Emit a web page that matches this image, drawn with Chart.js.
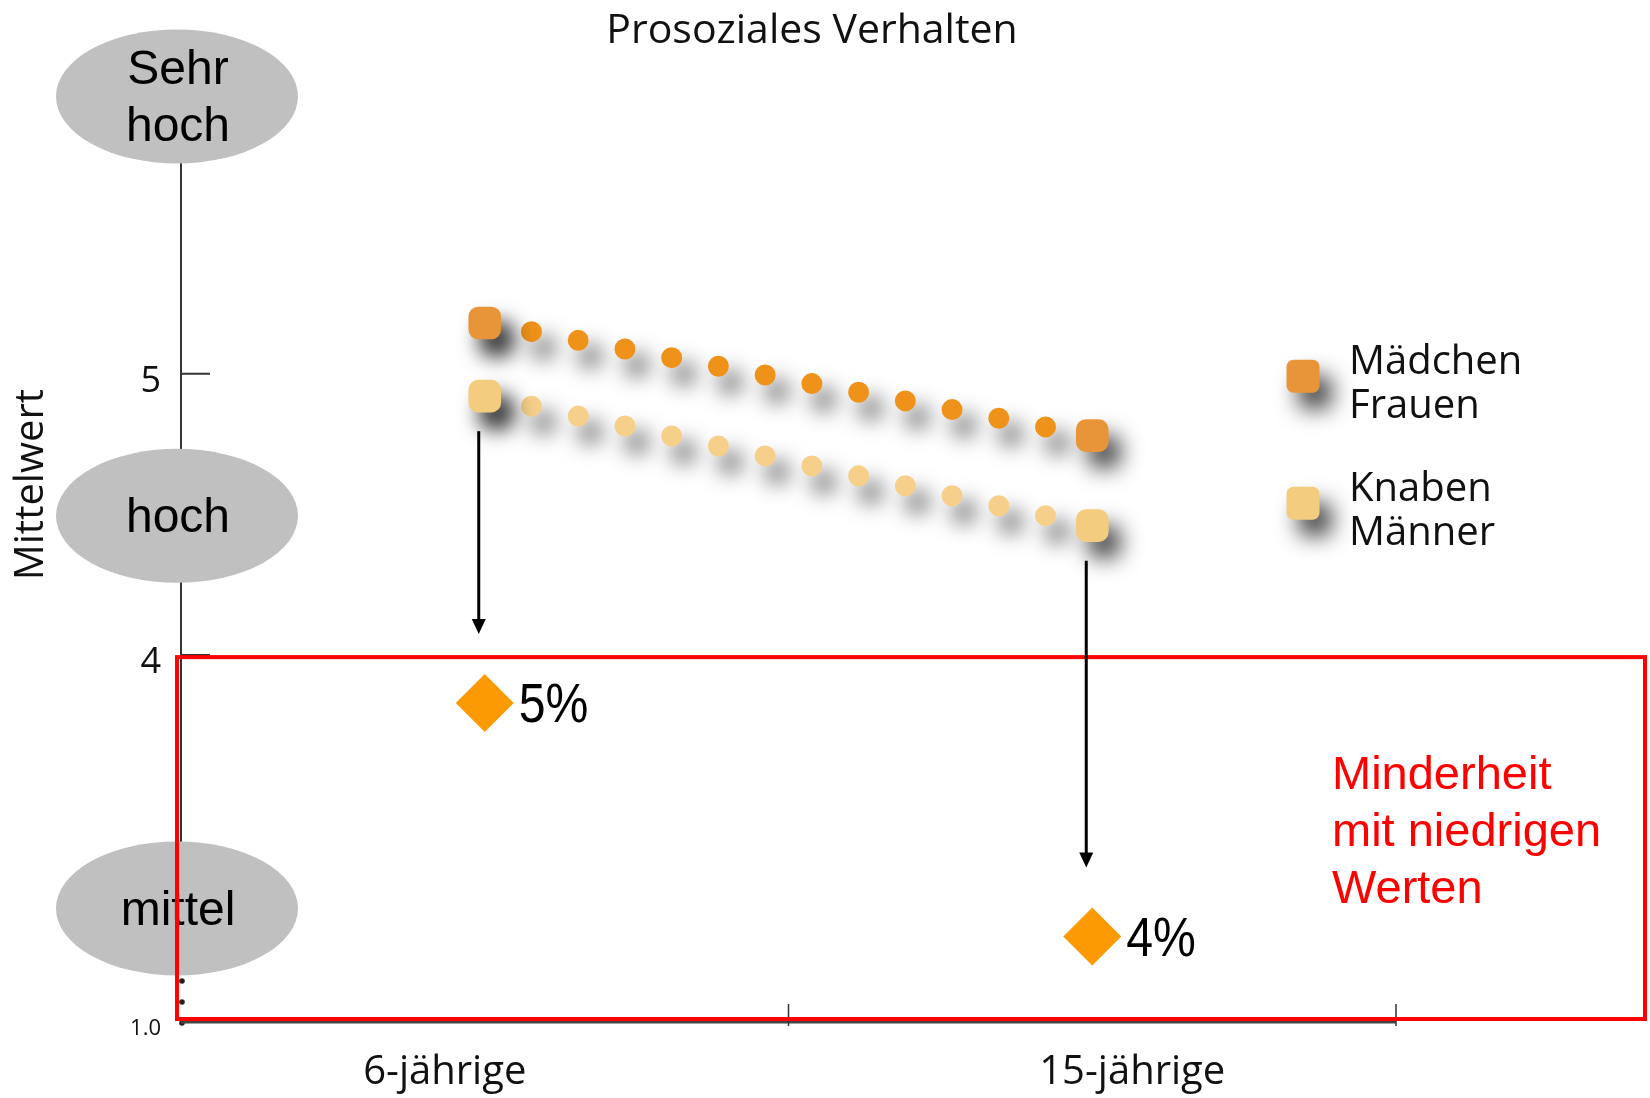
<!DOCTYPE html>
<html lang="de">
<head>
<meta charset="utf-8">
<title>Prosoziales Verhalten</title>
<script src="https://cdn.jsdelivr.net/npm/chart.js@4.4.1/dist/chart.umd.min.js"></script>
<style>
    html, body { margin: 0; padding: 0; background: #fff; }
    .chart-wrap { position: relative; width: 1650px; height: 1098px; }
</style>
</head>
<body>
<div class="chart-wrap"><canvas id="chart"></canvas></div>
<script>
// values
const ageGroups = ['6-jährige', '15-jährige'];
const girlsValues = [5.18, 4.78];
const boysValues = [4.92, 4.46];
const seriesNames = [['Mädchen', 'Frauen'], ['Knaben', 'Männer']];

const lowShareValues = [3.83, 3.0];
const lowShareLabels = ['5%', '4%'];

const levelNames = [['Sehr', 'hoch'], ['hoch'], ['mittel']];
const levelValues = [5.985, 4.495, 3.1];

const yTickValues = [4, 5];
const yBreakValue = 2.7;
const yBreakLabel = '1.0';
const yTop = 6;
const yTitle = 'Mittelwert';
const minorityThreshold = 4;
const minorityText = ['Minderheit', 'mit niedrigen', 'Werten'];

const SANS = '"Open Sans", "Noto Sans", sans-serif';
const ARIAL = '"Liberation Sans", Arial, sans-serif';
const NARROW = '"Liberation Sans Narrow", "Liberation Sans", sans-serif';

const girlsColor = '#EF921A';
const girlsSquare = '#E8953A';
const boysColor = '#F6D08A';
const boysSquare = '#F4CC80';
const dotsPerSegment = 13;

function dotDash(ctx) {
    const { x, y } = ctx.chart.scales;
    const values = ctx.dataset.data;
    if (!x || !y || values.length < 2) {
        return [];
    }
    const last = values.length - 1;
    const dx = x.getPixelForValue(last) - x.getPixelForValue(0);
    const dy = y.getPixelForValue(values[last]) - y.getPixelForValue(values[0]);
    const gap = Math.hypot(dx, dy) / (dotsPerSegment * last);
    return gap > 1 ? [0, gap] : [];
}

function setShadow(ctx) {
    ctx.shadowColor = 'rgba(0, 0, 0, 0.75)';
    ctx.shadowBlur = 22;
    ctx.shadowOffsetX = 12;
    ctx.shadowOffsetY = 16;
}

const dotShadow = {
    id: 'dotShadow',
    beforeDatasetDraw(chart, args) {
        if (!chart.data.datasets[args.index].shadow) {
            return;
        }
        chart.ctx.save();
        setShadow(chart.ctx);
    },
    afterDatasetDraw(chart, args) {
        if (chart.data.datasets[args.index].shadow) {
            chart.ctx.restore();
        }
    }
};

function drawArrow(ctx, x, yStart, yTip) {
    const head = 15;
    ctx.save();
    ctx.strokeStyle = '#000';
    ctx.fillStyle = '#000';
    ctx.lineWidth = 3;
    ctx.beginPath();
    ctx.moveTo(x, yStart);
    ctx.lineTo(x, yTip - head + 2);
    ctx.stroke();
    ctx.beginPath();
    ctx.moveTo(x - 7, yTip - head);
    ctx.lineTo(x + 7, yTip - head);
    ctx.lineTo(x, yTip);
    ctx.closePath();
    ctx.fill();
    ctx.restore();
}

const decor = {
    id: 'decor',
    beforeDatasetsDraw(chart) {
        const { ctx, chartArea: area, scales: { x, y } } = chart;
        ctx.save();

        // y axis with break dots at the bottom
        ctx.strokeStyle = '#333';
        ctx.fillStyle = '#222';
        ctx.lineWidth = 2;
        ctx.beginPath();
        ctx.moveTo(area.left, area.top);
        ctx.lineTo(area.left, area.bottom - 52);
        for (const value of yTickValues) {
            const py = y.getPixelForValue(value);
            ctx.moveTo(area.left, py);
            ctx.lineTo(area.left + 29, py);
        }
        ctx.stroke();
        for (const offset of [42, 21, 0]) {
            ctx.beginPath();
            ctx.arc(area.left + 1, area.bottom - offset + 2, 2.8, 0, Math.PI * 2);
            ctx.fill();
        }

        // y axis title
        ctx.save();
        ctx.translate(32, (area.top + area.bottom) / 2 - 72);
        ctx.rotate(-Math.PI / 2);
        ctx.fillStyle = '#111';
        ctx.font = `40px ${SANS}`;
        ctx.textAlign = 'center';
        ctx.textBaseline = 'middle';
        ctx.fillText(yTitle, 0, 0);
        ctx.restore();

        // x axis with upward ticks on the category borders
        ctx.strokeStyle = '#444';
        ctx.lineWidth = 3;
        ctx.beginPath();
        ctx.moveTo(area.left, area.bottom + 1);
        ctx.lineTo(area.right, area.bottom + 1);
        ctx.stroke();
        ctx.lineWidth = 1.5;
        ctx.strokeStyle = '#333';
        const step = x.getPixelForValue(1) - x.getPixelForValue(0);
        ageGroups.forEach((label, i) => {
            const px = x.getPixelForValue(i) + step / 2;
            ctx.beginPath();
            ctx.moveTo(px, area.bottom + 5);
            ctx.lineTo(px, area.bottom - 17);
            ctx.stroke();
        });

        // grey level ellipses on the y axis
        ctx.textAlign = 'center';
        ctx.textBaseline = 'middle';
        ctx.font = `48px ${ARIAL}`;
        levelNames.forEach((lines, i) => {
            const cx = area.left - 4;
            const cy = y.getPixelForValue(levelValues[i]);
            ctx.fillStyle = '#C0C0C0';
            ctx.beginPath();
            ctx.ellipse(cx, cy, 121, 67, 0, 0, Math.PI * 2);
            ctx.fill();
            ctx.fillStyle = '#000';
            lines.forEach((line, j) => {
                ctx.fillText(line, cx + 1, cy + 3 + (j - (lines.length - 1) / 2) * 57);
            });
        });

        // red box for the low-value minority
        const boxTop = y.getPixelForValue(minorityThreshold) + 2;
        ctx.strokeStyle = '#FF0000';
        ctx.lineWidth = 4;
        ctx.strokeRect(area.left - 4, boxTop, chart.width - 5 - (area.left - 4), area.bottom - 2 - boxTop);
        ctx.fillStyle = '#FF0000';
        ctx.textAlign = 'left';
        ctx.font = `47px ${ARIAL}`;
        minorityText.forEach((line, i) => {
            ctx.fillText(line, area.right - 64, boxTop + 119 + i * 57);
        });

        // legend with shadowed squares
        chart.data.datasets.forEach((dataset, i) => {
            if (!dataset.legendLines) {
                return;
            }
            const sx = area.right - 93;
            const sy = area.top + 284 + i * 127;
            ctx.save();
            setShadow(ctx);
            ctx.fillStyle = dataset.pointBackgroundColor;
            ctx.beginPath();
            ctx.roundRect(sx - 16.5, sy - 16.5, 33, 33, 7);
            ctx.fill();
            ctx.restore();
            ctx.fillStyle = '#111';
            ctx.font = `40px ${SANS}`;
            dataset.legendLines.forEach((line, j) => {
                ctx.fillText(line, sx + 46, sy - 14 + j * 44);
            });
        });

        ctx.restore();
    },
    afterDatasetsDraw(chart) {
        const { ctx } = chart;
        const boys = chart.getDatasetMeta(1).data;
        const shares = chart.getDatasetMeta(2).data;
        shares.forEach((point, i) => {
            drawArrow(ctx, point.x - 6, boys[i].y + 35, point.y - 69);
        });
        ctx.save();
        ctx.fillStyle = '#000';
        ctx.font = `56px ${NARROW}`;
        ctx.textAlign = 'left';
        ctx.textBaseline = 'middle';
        shares.forEach((point, i) => {
            ctx.save();
            ctx.translate(point.x + 34, point.y + 4);
            ctx.scale(0.86, 1);
            ctx.fillText(lowShareLabels[i], 0, 0);
            ctx.restore();
        });
        ctx.restore();
    }
};

new Chart(document.getElementById('chart'), {
    type: 'line',
    data: {
        labels: ageGroups,
        datasets: [
            {
                label: seriesNames[0].join(' '),
                legendLines: seriesNames[0],
                data: girlsValues,
                shadow: true,
                borderColor: girlsColor,
                borderWidth: 21,
                borderCapStyle: 'round',
                borderDash: dotDash,
                pointStyle: 'rectRounded',
                pointRadius: 19,
                pointBorderWidth: 0,
                pointBackgroundColor: girlsSquare,
                tension: 0
            },
            {
                label: seriesNames[1].join(' '),
                legendLines: seriesNames[1],
                data: boysValues,
                shadow: true,
                borderColor: boysColor,
                borderWidth: 21,
                borderCapStyle: 'round',
                borderDash: dotDash,
                pointStyle: 'rectRounded',
                pointRadius: 19,
                pointBorderWidth: 0,
                pointBackgroundColor: boysSquare,
                tension: 0
            },
            {
                label: 'Anteil niedrige Werte',
                data: lowShareValues,
                showLine: false,
                pointStyle: 'rectRot',
                pointRadius: 29,
                pointBorderWidth: 0,
                pointBackgroundColor: '#FC9A04'
            }
        ]
    },
    options: {
        responsive: true,
        maintainAspectRatio: false,
        animation: false,
        events: [],
        layout: {
            padding: { left: 0, right: 26, top: 0, bottom: 0 }
        },
        plugins: {
            legend: { display: false },
            tooltip: { enabled: false },
            title: {
                display: true,
                text: 'Prosoziales Verhalten',
                color: '#111',
                font: { family: SANS, size: 41, weight: 'normal' },
                padding: { top: 7, bottom: 36 }
            }
        },
        scales: {
            x: {
                type: 'category',
                offset: true,
                grid: { display: false, drawTicks: false },
                border: { display: false },
                ticks: {
                    color: '#111',
                    padding: 28,
                    font: { family: SANS, size: 40 },
                    // the labels sit a little off the category centres
                    callback: (value, index) => (index === 0
                        ? ageGroups[index] + '\u2003\u2003'
                        : '\u2003\u2003' + ageGroups[index])
                },
                afterFit: (scale) => { scale.height = 77; }
            },
            y: {
                min: yBreakValue,
                max: yTop,
                grid: { display: false, drawTicks: false },
                border: { display: false },
                afterBuildTicks: (scale) => {
                    scale.ticks = [yBreakValue, ...yTickValues].map((value) => ({ value }));
                },
                ticks: {
                    color: '#111',
                    padding: 20,
                    labelOffset: 8,
                    font: (context) => ({
                        family: SANS,
                        size: context.tick && context.tick.value === yBreakValue ? 22 : 36
                    }),
                    callback: (value) => (value === yBreakValue ? yBreakLabel : value)
                },
                afterFit: (scale) => { scale.width = 181; }
            },
            spare: {
                position: 'right',
                display: true,
                grid: { display: false, drawTicks: false },
                border: { display: false },
                ticks: { display: false },
                afterFit: (scale) => { scale.width = 228; }
            }
        }
    },
    plugins: [dotShadow, decor]
});
</script>
</body>
</html>
